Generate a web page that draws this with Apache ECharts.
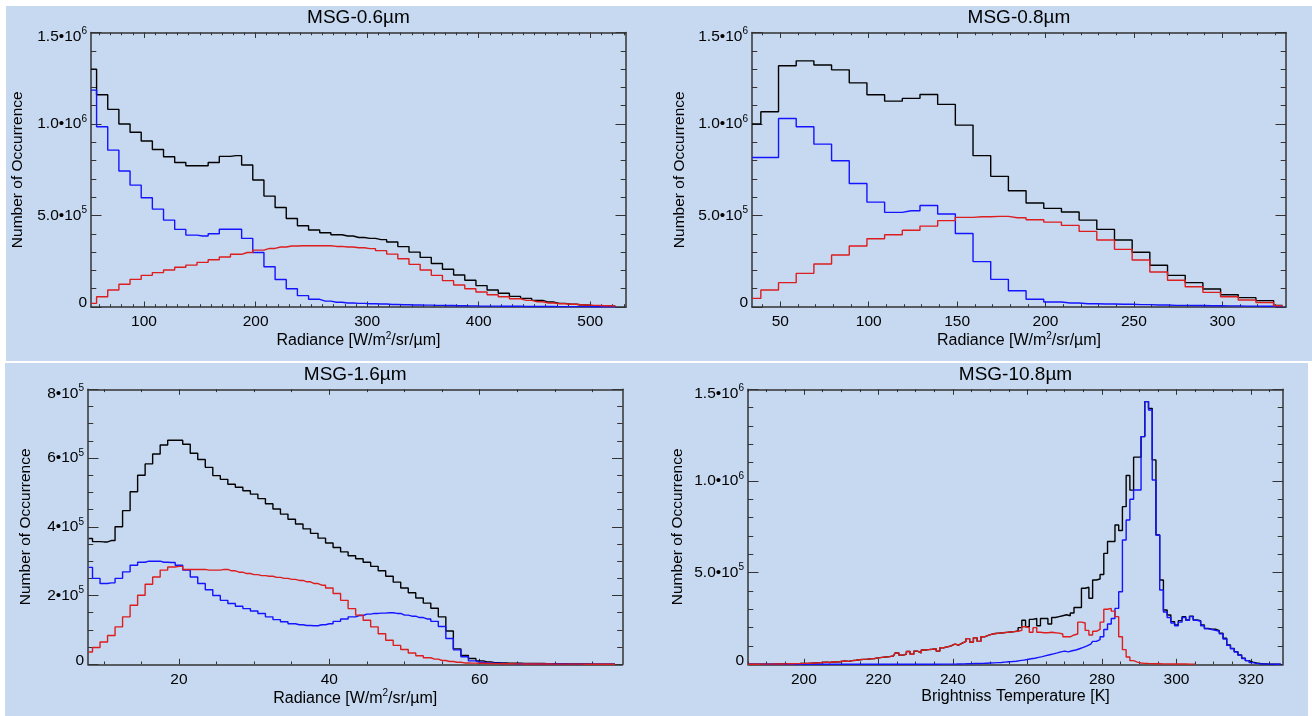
<!DOCTYPE html>
<html>
<head>
<meta charset="utf-8">
<title>MSG radiance histograms</title>
<script src="https://cdn.jsdelivr.net/npm/echarts@6.0.0/dist/echarts.min.js"></script>
<style>
  html, body { margin: 0; padding: 0; background: #fff; }
  #chart { width: 1312px; height: 716px; }
</style>
</head>
<body>
<div id="chart"></div>
<script>
// counts are stored in units of 1e5 occurrences
const UNIT = 1e5;

// ---- MSG 0.6um ----
const x06 = [52.5, 62.5, 72.5, 82.5, 92.5, 102.5, 112.5, 122.5, 132.5, 142.5,
  152.5, 162.5, 172.5, 182.5, 192.5, 202.5, 212.5, 222.5, 232.5, 242.5,
  252.5, 262.5, 272.5, 282.5, 292.5, 302.5, 312.5, 322.5, 332.5, 342.5,
  352.5, 362.5, 372.5, 382.5, 392.5, 402.5, 412.5, 422.5, 432.5, 442.5,
  452.5, 462.5, 472.5, 482.5, 492.5, 502.5, 512.5, 522.5];
const all06 = [13.0, 11.6, 10.8, 10.0, 9.55, 9.07, 8.61, 8.21, 7.90, 7.72,
  7.72, 7.90, 8.23, 8.27, 7.76, 6.94, 6.06, 5.44, 4.84, 4.44,
  4.21, 4.06, 3.95, 3.88, 3.80, 3.75, 3.68, 3.55, 3.30, 3.00,
  2.71, 2.38, 2.06, 1.75, 1.46, 1.17, 0.93, 0.75, 0.58, 0.47,
  0.36, 0.27, 0.20, 0.15, 0.11, 0.07, 0.05, 0.04];
const clear06 = [11.85, 9.85, 8.57, 7.43, 6.66, 5.97, 5.35, 4.75, 4.24, 3.93,
  3.88, 4.00, 4.25, 4.25, 3.75, 2.98, 2.20, 1.50, 1.00, 0.62,
  0.42, 0.32, 0.26, 0.22, 0.20, 0.18, 0.16, 0.14, 0.12, 0.11,
  0.10, 0.09, 0.08, 0.07, 0.06, 0.05, 0.05, 0.04, 0.04, 0.03,
  0.03, 0.03, 0.02, 0.02, 0.02, 0.01, 0.01, 0.01];
const cloudy06 = [0.20, 0.56, 0.93, 1.24, 1.51, 1.73, 1.88, 2.02, 2.17, 2.29,
  2.44, 2.58, 2.73, 2.88, 2.98, 3.11, 3.20, 3.28, 3.33, 3.35,
  3.35, 3.35, 3.31, 3.28, 3.24, 3.19, 3.08, 2.89, 2.64, 2.33,
  2.02, 1.73, 1.44, 1.20, 1.00, 0.82, 0.67, 0.56, 0.45, 0.36,
  0.29, 0.22, 0.18, 0.15, 0.11, 0.09, 0.07, 0.05];

// ---- MSG 0.8um ----
const x08 = [34, 44, 54, 64, 74, 84, 94, 104, 114, 124, 134, 144, 154, 164, 174, 184,
  194, 204, 214, 224, 234, 244, 254, 264, 274, 284, 294, 304, 314, 324, 334];
const all08 = [10.0, 10.67, 13.18, 13.45, 13.22, 12.96, 12.25, 11.6, 11.25, 11.4,
  11.61, 11.07, 9.94, 8.27, 7.14, 6.35, 5.68, 5.39, 5.19, 4.75,
  4.24, 3.66, 2.99, 2.28, 1.73, 1.33, 0.98, 0.67, 0.51, 0.35, 0.09];
const clear08 = [8.17, 8.17, 10.30, 9.85, 8.90, 7.99, 6.75, 5.73, 5.17, 5.26,
  5.55, 5.08, 4.02, 2.48, 1.51, 0.89, 0.42, 0.27, 0.22, 0.18,
  0.16, 0.15, 0.13, 0.11, 0.09, 0.08, 0.07, 0.06, 0.05, 0.04, 0.03];
const cloudy08 = [0.47, 0.93, 1.33, 1.84, 2.35, 2.84, 3.33, 3.73, 3.95, 4.19,
  4.42, 4.72, 4.90, 4.93, 4.95, 4.88, 4.77, 4.64, 4.46, 4.13,
  3.66, 3.15, 2.57, 1.91, 1.46, 1.11, 0.80, 0.56, 0.38, 0.25, 0.07];

// ---- MSG 1.6um ----
const x16 = [8, 9, 10, 11, 12, 13, 14, 15, 16, 17, 18, 19, 20, 21, 22, 23, 24, 25,
  26, 27, 28, 29, 30, 31, 32, 33, 34, 35, 36, 37, 38, 39, 40, 41, 42, 43,
  44, 45, 46, 47, 48, 49, 50, 51, 52, 53, 54, 55, 56, 57, 58, 59, 60, 61,
  62, 63, 64, 65, 66, 67, 68, 69, 70, 71, 72, 73, 74, 75, 76, 77, 78];
const all16 = [3.66, 3.57, 3.56, 3.6, 4.0, 4.47, 5.02, 5.5, 5.83, 6.12,
  6.38, 6.52, 6.52, 6.4, 6.14, 5.96, 5.73, 5.49, 5.38, 5.24,
  5.15, 5.05, 4.95, 4.82, 4.67, 4.52, 4.37, 4.22, 4.08, 3.94,
  3.81, 3.67, 3.53, 3.40, 3.27, 3.16, 3.07, 2.97, 2.85, 2.72,
  2.56, 2.39, 2.22, 2.08, 1.93, 1.78, 1.63, 1.38, 0.97, 0.45,
  0.26, 0.17, 0.10, 0.07, 0.05, 0.04, 0.035, 0.03, 0.028, 0.025,
  0.022, 0.02, 0.018, 0.015, 0.012, 0.01, 0.008, 0.006, 0.005, 0.004, 0.003];
const clear16 = [2.82, 2.5, 2.35, 2.37, 2.5, 2.69, 2.88, 2.97, 3.0, 3.0,
  2.97, 2.96, 2.88, 2.74, 2.54, 2.35, 2.17, 2.0, 1.86, 1.77,
  1.69, 1.62, 1.55, 1.48, 1.38, 1.30, 1.24, 1.18, 1.15, 1.13,
  1.12, 1.15, 1.18, 1.25, 1.32, 1.38, 1.42, 1.46, 1.48, 1.49,
  1.50, 1.48, 1.43, 1.40, 1.36, 1.32, 1.25, 1.10, 0.75, 0.42,
  0.22, 0.10, 0.06, 0.04, 0.03, 0.025, 0.02, 0.018, 0.015, 0.012,
  0.01, 0.009, 0.008, 0.007, 0.006, 0.005, 0.004, 0.003, 0.003, 0.002, 0.002];
const cloudy16 = [0.36, 0.49, 0.65, 0.84, 1.09, 1.38, 1.72, 2.01, 2.33, 2.54,
  2.74, 2.83, 2.85, 2.76, 2.76, 2.76, 2.74, 2.74, 2.76, 2.72,
  2.68, 2.64, 2.61, 2.58, 2.56, 2.53, 2.50, 2.47, 2.44, 2.40,
  2.35, 2.30, 2.22, 2.06, 1.86, 1.62, 1.43, 1.28, 1.09, 0.89,
  0.70, 0.55, 0.43, 0.33, 0.25, 0.19, 0.15, 0.11, 0.08, 0.06,
  0.04, 0.035, 0.03, 0.025, 0.02, 0.018, 0.015, 0.012, 0.01, 0.009,
  0.008, 0.007, 0.006, 0.005, 0.004, 0.004, 0.003, 0.003, 0.002, 0.002, 0.001];

// ---- MSG 10.8um ----
const x108 = [185, 186, 187, 188, 189, 190, 191, 192, 193, 194, 195, 196, 197, 198, 199,
  200, 201, 202, 203, 204, 205, 206, 207, 208, 209, 210, 211, 212, 213, 214,
  215, 216, 217, 218, 219, 220, 221, 222, 223, 224, 225, 226, 227, 228, 229,
  230, 231, 232, 233, 234, 235, 236, 237, 238, 239, 240, 241, 242, 243, 244,
  245, 246, 247, 248, 249, 250, 251, 252, 253, 254, 255, 256, 257, 258, 259,
  260, 261, 262, 263, 264, 265, 266, 267, 268, 269, 270, 271, 272, 273, 274,
  275, 276, 277, 278, 279, 280, 281, 282, 283, 284, 285, 286, 287, 288, 289,
  290, 291, 292, 293, 294, 295, 296, 297, 298, 299, 300, 301, 302, 303, 304,
  305, 306, 307, 308, 309, 310, 311, 312, 313, 314, 315, 316, 317, 318, 319,
  320, 321, 322, 323, 324, 325, 326, 327, 328];
const all108 = [0, 0, 0.005, 0.005, 0.01, 0.01, 0.012, 0.015, 0.02, 0.02,
  0.025, 0.03, 0.03, 0.035, 0.04, 0.05, 0.05, 0.06, 0.07, 0.08,
  0.1, 0.12, 0.1, 0.14, 0.12, 0.15, 0.18, 0.16, 0.2, 0.22,
  0.25, 0.27, 0.28, 0.3, 0.32, 0.35, 0.38, 0.4, 0.42, 0.45,
  0.62, 0.5, 0.55, 0.7, 0.55, 0.72, 0.62, 0.78, 0.8, 0.82,
  0.85, 0.72, 0.9, 0.95, 1.0, 1.1, 1.05, 1.15, 1.25, 1.4,
  1.2, 1.45, 1.25, 1.5, 1.58, 1.65, 1.68, 1.7, 1.72, 1.74,
  1.76, 1.78, 1.82, 2.0, 2.4, 2.05, 2.45, 2.5, 2.1, 2.5,
  2.5, 2.2, 2.55, 2.6, 2.65, 2.7, 2.65, 2.8, 3.1, 3.1,
  4.15, 4.2, 3.6, 4.6, 4.65, 4.9, 6.05, 6.7, 6.7, 7.6,
  7.3, 8.6, 10.3, 9.5, 11.3, 11.3, 12.42, 14.33, 13.96, 11.15,
  7.05, 4.6, 2.96, 2.69, 2.33, 2.14, 2.38, 2.6, 2.42, 2.63,
  2.42, 2.38, 2.14, 1.96, 1.91, 1.91, 1.84, 1.69, 1.42, 1.05,
  0.87, 0.69, 0.51, 0.33, 0.2, 0.12, 0.07, 0.04, 0.025, 0.015,
  0.01, 0.005, 0.002, 0];
const clear108 = [0, 0, 0, 0, 0, 0, 0, 0, 0, 0,
  0, 0, 0, 0, 0, 0, 0, 0, 0, 0,
  0, 0, 0, 0, 0, 0, 0, 0, 0, 0,
  0, 0, 0, 0, 0, 0, 0, 0, 0, 0,
  0, 0, 0, 0, 0, 0, 0, 0, 0, 0,
  0.005, 0.005, 0.008, 0.01, 0.01, 0.012, 0.015, 0.02, 0.025, 0.03,
  0.035, 0.04, 0.045, 0.05, 0.06, 0.07, 0.08, 0.09, 0.1, 0.12,
  0.14, 0.15, 0.17, 0.2, 0.23, 0.26, 0.3, 0.33, 0.38, 0.42,
  0.47, 0.52, 0.57, 0.62, 0.68, 0.72, 0.68, 0.74, 0.78, 0.85,
  0.92, 1.0, 1.1, 1.25, 1.35, 1.5, 1.9, 2.2, 2.5, 3.05,
  3.96, 6.78, 7.87, 9.0, 9.51, 9.51, 12.42, 14.33, 13.87, 10.05,
  7.05, 4.05, 2.85, 2.55, 2.25, 2.1, 2.3, 2.55, 2.4, 2.6,
  2.4, 2.35, 2.1, 1.93, 1.9, 1.85, 1.8, 1.66, 1.38, 1.03,
  0.85, 0.67, 0.5, 0.32, 0.2, 0.09, 0.05, 0.03, 0.02, 0.01,
  0.01, 0.005, 0.002, 0];
// cloudy class stops at 305 K
const cloudy108 = [0, 0, 0.005, 0.005, 0.01, 0.01, 0.012, 0.015, 0.02, 0.02,
  0.025, 0.03, 0.03, 0.035, 0.04, 0.05, 0.05, 0.06, 0.07, 0.08,
  0.1, 0.12, 0.1, 0.14, 0.12, 0.15, 0.18, 0.16, 0.2, 0.22,
  0.25, 0.27, 0.28, 0.3, 0.32, 0.35, 0.38, 0.4, 0.42, 0.45,
  0.62, 0.5, 0.55, 0.7, 0.55, 0.72, 0.62, 0.78, 0.8, 0.82,
  0.85, 0.72, 0.9, 0.95, 1.0, 1.1, 1.05, 1.15, 1.25, 1.4,
  1.2, 1.45, 1.25, 1.5, 1.58, 1.65, 1.68, 1.7, 1.72, 1.74,
  1.76, 1.78, 1.8, 1.85, 2.05, 2.0, 1.75, 2.0, 1.75, 1.72,
  1.72, 1.75, 1.72, 1.7, 1.65, 1.5, 1.5, 1.6, 1.65, 2.3,
  2.25, 1.85, 1.6, 1.8, 1.9, 2.3, 3.0, 3.05, 2.9, 2.6,
  1.5, 0.8, 0.4, 0.2, 0.12, 0.07, 0.05, 0.04, 0.035, 0.03,
  0.03, 0.025, 0.025, 0.02, 0.02, 0.02, 0.015, 0.015, 0.01, 0.01, 0.01];

// tick labels ({lo|} / {hi|} nudge the end labels inward like the original plot)
const xTicks06 = [100, 200, 300, 400, 500];
const xTicks08 = [50, 100, 150, 200, 250, 300];
const xTicks16 = [20, 40, 60];
const xTicks108 = [200, 220, 240, 260, 280, 300, 320];
const yTicksBig = [0, 5e5, 1e6, 1.5e6];
const yLabelsBig = ['{lo|0}', '5.0•10{s|5}', '1.0•10{s|6}', '{hi|1.5•10}{hs|6}'];
const yTicksSmall = [0, 2e5, 4e5, 6e5, 8e5];
const yLabelsSmall = ['{lo|0}', '2•10{s|5}', '4•10{s|5}', '6•10{s|5}', '{hi|8•10}{hs|5}'];

const FONT = '"Liberation Sans", Arial, Helvetica, sans-serif';
const BG = '#c6d9f1';
const AXIS_COLOR = '#333';
const COLORS = { all: '#000000', clear: '#1414ff', cloudy: '#dc1e1e' };
const RADIANCE = 'Radiance [W/m{s|2}/sr/µm]';

const panels = [
  { title: 'MSG-0.6µm', box: [91, 32.5, 535, 274.5], xMin: 52.5, xMax: 532, xTicks: xTicks06, xMinor: 10,
    yMax: 1.5e6, yStep: 5e5, yMinorSplit: 5, yTicks: yTicksBig, yLabels: yLabelsBig,
    xName: RADIANCE, xNameGap: 22, yNameGap: 65, x: x06, all: all06, clear: clear06, cloudy: cloudy06 },
  { title: 'MSG-0.8µm', box: [752, 32.5, 534, 274.5], xMin: 34, xMax: 336, xTicks: xTicks08, xMinor: 10,
    yMax: 1.5e6, yStep: 5e5, yMinorSplit: 5, yTicks: yTicksBig, yLabels: yLabelsBig,
    xName: RADIANCE, xNameGap: 22, yNameGap: 64, x: x08, all: all08, clear: clear08, cloudy: cloudy08 },
  { title: 'MSG-1.6µm', box: [88, 389.3, 534.5, 275], xMin: 7.9, xMax: 79, xTicks: xTicks16, xMinor: 5,
    yMax: 8e5, yStep: 2e5, yMinorSplit: 4, yTicks: yTicksSmall, yLabels: yLabelsSmall,
    xName: RADIANCE, xNameGap: 22, yNameGap: 54, x: x16, all: all16, clear: clear16, cloudy: cloudy16 },
  { title: 'MSG-10.8µm', box: [748, 389.3, 535, 275], xMin: 185, xMax: 328.6, xTicks: xTicks108, xMinor: 5,
    yMax: 1.5e6, yStep: 5e5, yMinorSplit: 5, yTicks: yTicksBig, yLabels: yLabelsBig,
    xName: 'Brightniss Temperature [K]', xNameGap: 24, yNameGap: 62, x: x108, all: all108, clear: clear108, cloudy: cloudy108 }
];

// minor tick positions between the labelled ones
function minorValues(lo, hi, step, majors) {
  const out = [];
  for (let k = Math.ceil(lo / step - 1e-9); k * step <= hi + 1e-9; k++) {
    const v = k * step;
    if (majors.indexOf(v) < 0) out.push(v);
  }
  return out;
}

function pairs(xs, vals) {
  return vals.map((v, i) => [xs[i], v * UNIT]);
}

const supStyle = { fontSize: 10, fontFamily: FONT, color: '#000', padding: [0, 0, 10, 0] };
const labelRich = {
  s: supStyle,
  lo: { fontSize: 15.5, fontFamily: FONT, color: '#000', padding: [0, 0, 8, 0] },
  hi: { fontSize: 15.5, fontFamily: FONT, color: '#000', padding: [8, 0, 0, 0] },
  hs: { fontSize: 10, fontFamily: FONT, color: '#000', padding: [0, 0, 2, 0] }
};
const lineStyle = { color: AXIS_COLOR, width: 1.5 };
const tickStyle = { color: AXIS_COLOR, width: 1 };

const option = {
  animation: false,
  textStyle: { fontFamily: FONT },
  graphic: [
    { type: 'rect', z: -100, silent: true, shape: { x: 6, y: 6, width: 1306, height: 355 }, style: { fill: BG } },
    { type: 'rect', z: -100, silent: true, shape: { x: 5, y: 363, width: 1303, height: 353 }, style: { fill: BG } }
  ],
  grid: [],
  xAxis: [],
  yAxis: [],
  series: []
};

panels.forEach((p, k) => {
  option.grid.push({ left: p.box[0], top: p.box[1], width: p.box[2], height: p.box[3] });

  // title centred over the plot box
  option.graphic.push({
    type: 'text', z: 100, silent: true,
    x: p.box[0] + p.box[2] / 2, y: k < 2 ? 17.5 : 375,
    style: { text: p.title, fontSize: 19, fontFamily: FONT, fill: '#000',
      align: 'center', verticalAlign: 'middle', textAlign: 'center', textVerticalAlign: 'middle' }
  });

  const minors = minorValues(p.xMin, p.xMax, p.xMinor, p.xTicks);
  const xBase = { type: 'value', gridIndex: k, min: p.xMin, max: p.xMax, splitLine: { show: false } };

  // bottom axis with labels + name, then its minor ticks, then the mirrored top pair
  option.xAxis.push(Object.assign({}, xBase, {
    position: 'bottom',
    axisLine: { show: true, onZero: false, lineStyle: lineStyle },
    axisTick: { show: true, inside: true, length: 5.5, lineStyle: tickStyle, customValues: p.xTicks },
    axisLabel: { show: true, customValues: p.xTicks, margin: 7, fontSize: 15.5, color: '#000', fontFamily: FONT },
    name: p.xName, nameLocation: 'middle', nameGap: p.xNameGap,
    nameTextStyle: { fontSize: 16, color: '#000', fontFamily: FONT, rich: { s: supStyle } }
  }));
  option.xAxis.push(Object.assign({}, xBase, {
    position: 'bottom',
    axisLine: { show: false, onZero: false },
    axisTick: { show: true, inside: true, length: 2.8, lineStyle: tickStyle, customValues: minors },
    axisLabel: { show: false }
  }));
  option.xAxis.push(Object.assign({}, xBase, {
    position: 'top',
    axisLine: { show: true, onZero: false, lineStyle: lineStyle },
    axisTick: { show: true, inside: true, length: 5.5, lineStyle: tickStyle, customValues: p.xTicks },
    axisLabel: { show: false }
  }));
  option.xAxis.push(Object.assign({}, xBase, {
    position: 'top',
    axisLine: { show: false, onZero: false },
    axisTick: { show: true, inside: true, length: 2.8, lineStyle: tickStyle, customValues: minors },
    axisLabel: { show: false }
  }));

  const yBase = {
    type: 'value', gridIndex: k, min: 0, max: p.yMax, interval: p.yStep,
    axisLine: { show: true, onZero: false, lineStyle: lineStyle },
    axisTick: { show: true, inside: true, length: 10.5, lineStyle: tickStyle },
    minorTick: { show: true, splitNumber: p.yMinorSplit, length: 5.3, lineStyle: tickStyle },
    splitLine: { show: false }, minorSplitLine: { show: false }
  };
  option.yAxis.push(Object.assign({}, yBase, {
    position: 'left',
    axisLabel: {
      show: true, margin: 4, fontSize: 15.5, color: '#000', fontFamily: FONT,
      formatter: v => { const i = p.yTicks.indexOf(v); return i < 0 ? '' : p.yLabels[i]; },
      rich: labelRich
    },
    name: 'Number of Occurrence', nameLocation: 'middle', nameGap: p.yNameGap,
    nameTextStyle: { fontSize: 15.5, color: '#000', fontFamily: FONT }
  }));
  option.yAxis.push(Object.assign({}, yBase, { position: 'right', axisLabel: { show: false } }));

  [['all', COLORS.all], ['clear', COLORS.clear], ['cloudy', COLORS.cloudy]].forEach(([key, color]) => {
    option.series.push({
      name: p.title + ' ' + key,
      type: 'line',
      step: 'middle',
      xAxisIndex: k * 4,
      yAxisIndex: k * 2,
      showSymbol: false,
      symbol: 'none',
      lineStyle: { color: color, width: 1.4 },
      itemStyle: { color: color },
      data: pairs(p.x, p[key])
    });
  });
});

const chart = echarts.init(document.getElementById('chart'));
chart.setOption(option);
</script>
</body>
</html>
